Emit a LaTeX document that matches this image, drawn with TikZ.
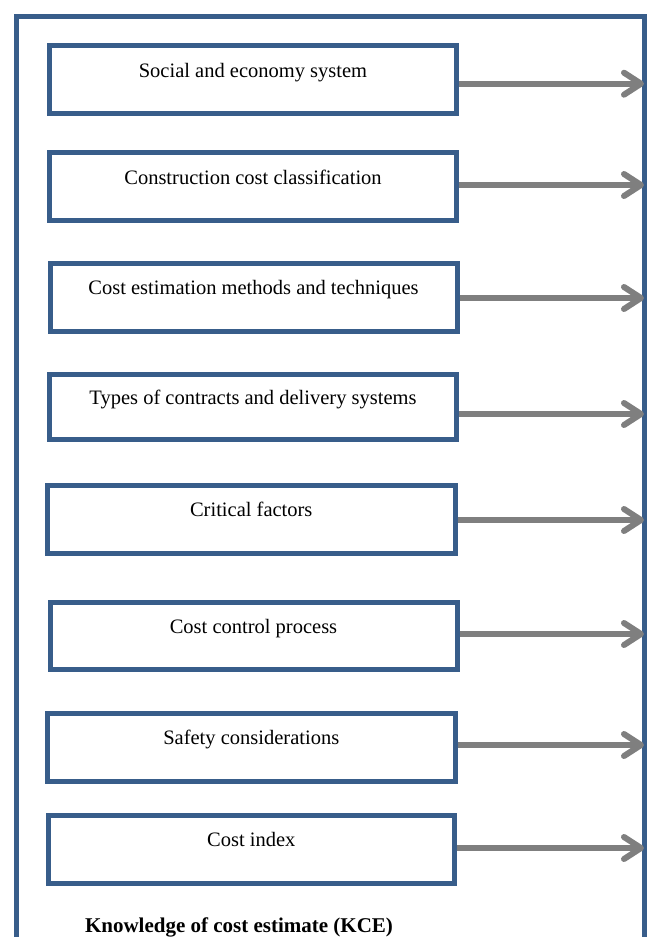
\documentclass[tikz,border=0pt]{standalone}
\usepackage{fontspec}
\setmainfont{Liberation Serif}
\usetikzlibrary{arrows.meta}
\definecolor{frameblue}{HTML}{385D8A}
\definecolor{arrowgray}{HTML}{7F7F7F}
\tikzset{
  kbox/.style={draw=frameblue, line width=5pt, rectangle, inner sep=0pt, outer sep=0pt,
    minimum height=68pt, text height=15pt, text depth=20pt,
    font=\fontsize{20.5}{24}\selectfont, anchor=north west},
  karrow/.style={draw=arrowgray, line width=6pt,
    -{Straight Barb[length=17pt,width=22pt,round]}},
}
\begin{document}
\begin{tikzpicture}[x=1pt,y=-1pt]
\useasboundingbox (0,0) rectangle (647,937);
% outer frame (open at bottom, continues past the page edge)
\draw[frameblue, line width=5pt] (16,990) -- (16,16) -- (644,16) -- (644,990);
% boxes
\node[kbox, minimum width=407pt] (b1) at (49.5,45.5) {Social and economy system};
\node[kbox, minimum width=407pt] (b2) at (49.5,152.5) {Construction cost classification};
\node[kbox, minimum width=407pt] (b3) at (50,263) {Cost estimation methods and techniques};
\node[kbox, minimum width=407pt, minimum height=65pt] (b4) at (49.5,374.5) {Types of contracts and delivery systems};
\node[kbox, minimum width=407.5pt] (b5) at (47.5,485) {Critical factors};
\node[kbox, minimum width=407pt, minimum height=67pt] (b6) at (50,602.5) {Cost control process};
\node[kbox, minimum width=407.5pt] (b7) at (47.5,713) {Safety considerations};
\node[kbox, minimum width=406.5pt, minimum height=67.5pt] (b8) at (48,815.5) {Cost index};
% arrow ends at the frame
\coordinate (t1) at (644,83.7);
\coordinate (t2) at (644,185);
\coordinate (t3) at (644,298);
\coordinate (t4) at (644,414);
\coordinate (t5) at (644,520);
\coordinate (t6) at (644,634);
\coordinate (t7) at (644,745);
\coordinate (t8) at (644,848);
\foreach \i in {1,...,8}{
  \draw[karrow] ([xshift=2.5pt]b\i.east |- t\i) -- (t\i);
}
% title
\node[anchor=base, font=\fontsize{21}{25}\selectfont\bfseries] (title) at (239,932) {Knowledge of cost estimate (KCE)};
\end{tikzpicture}
\end{document}
